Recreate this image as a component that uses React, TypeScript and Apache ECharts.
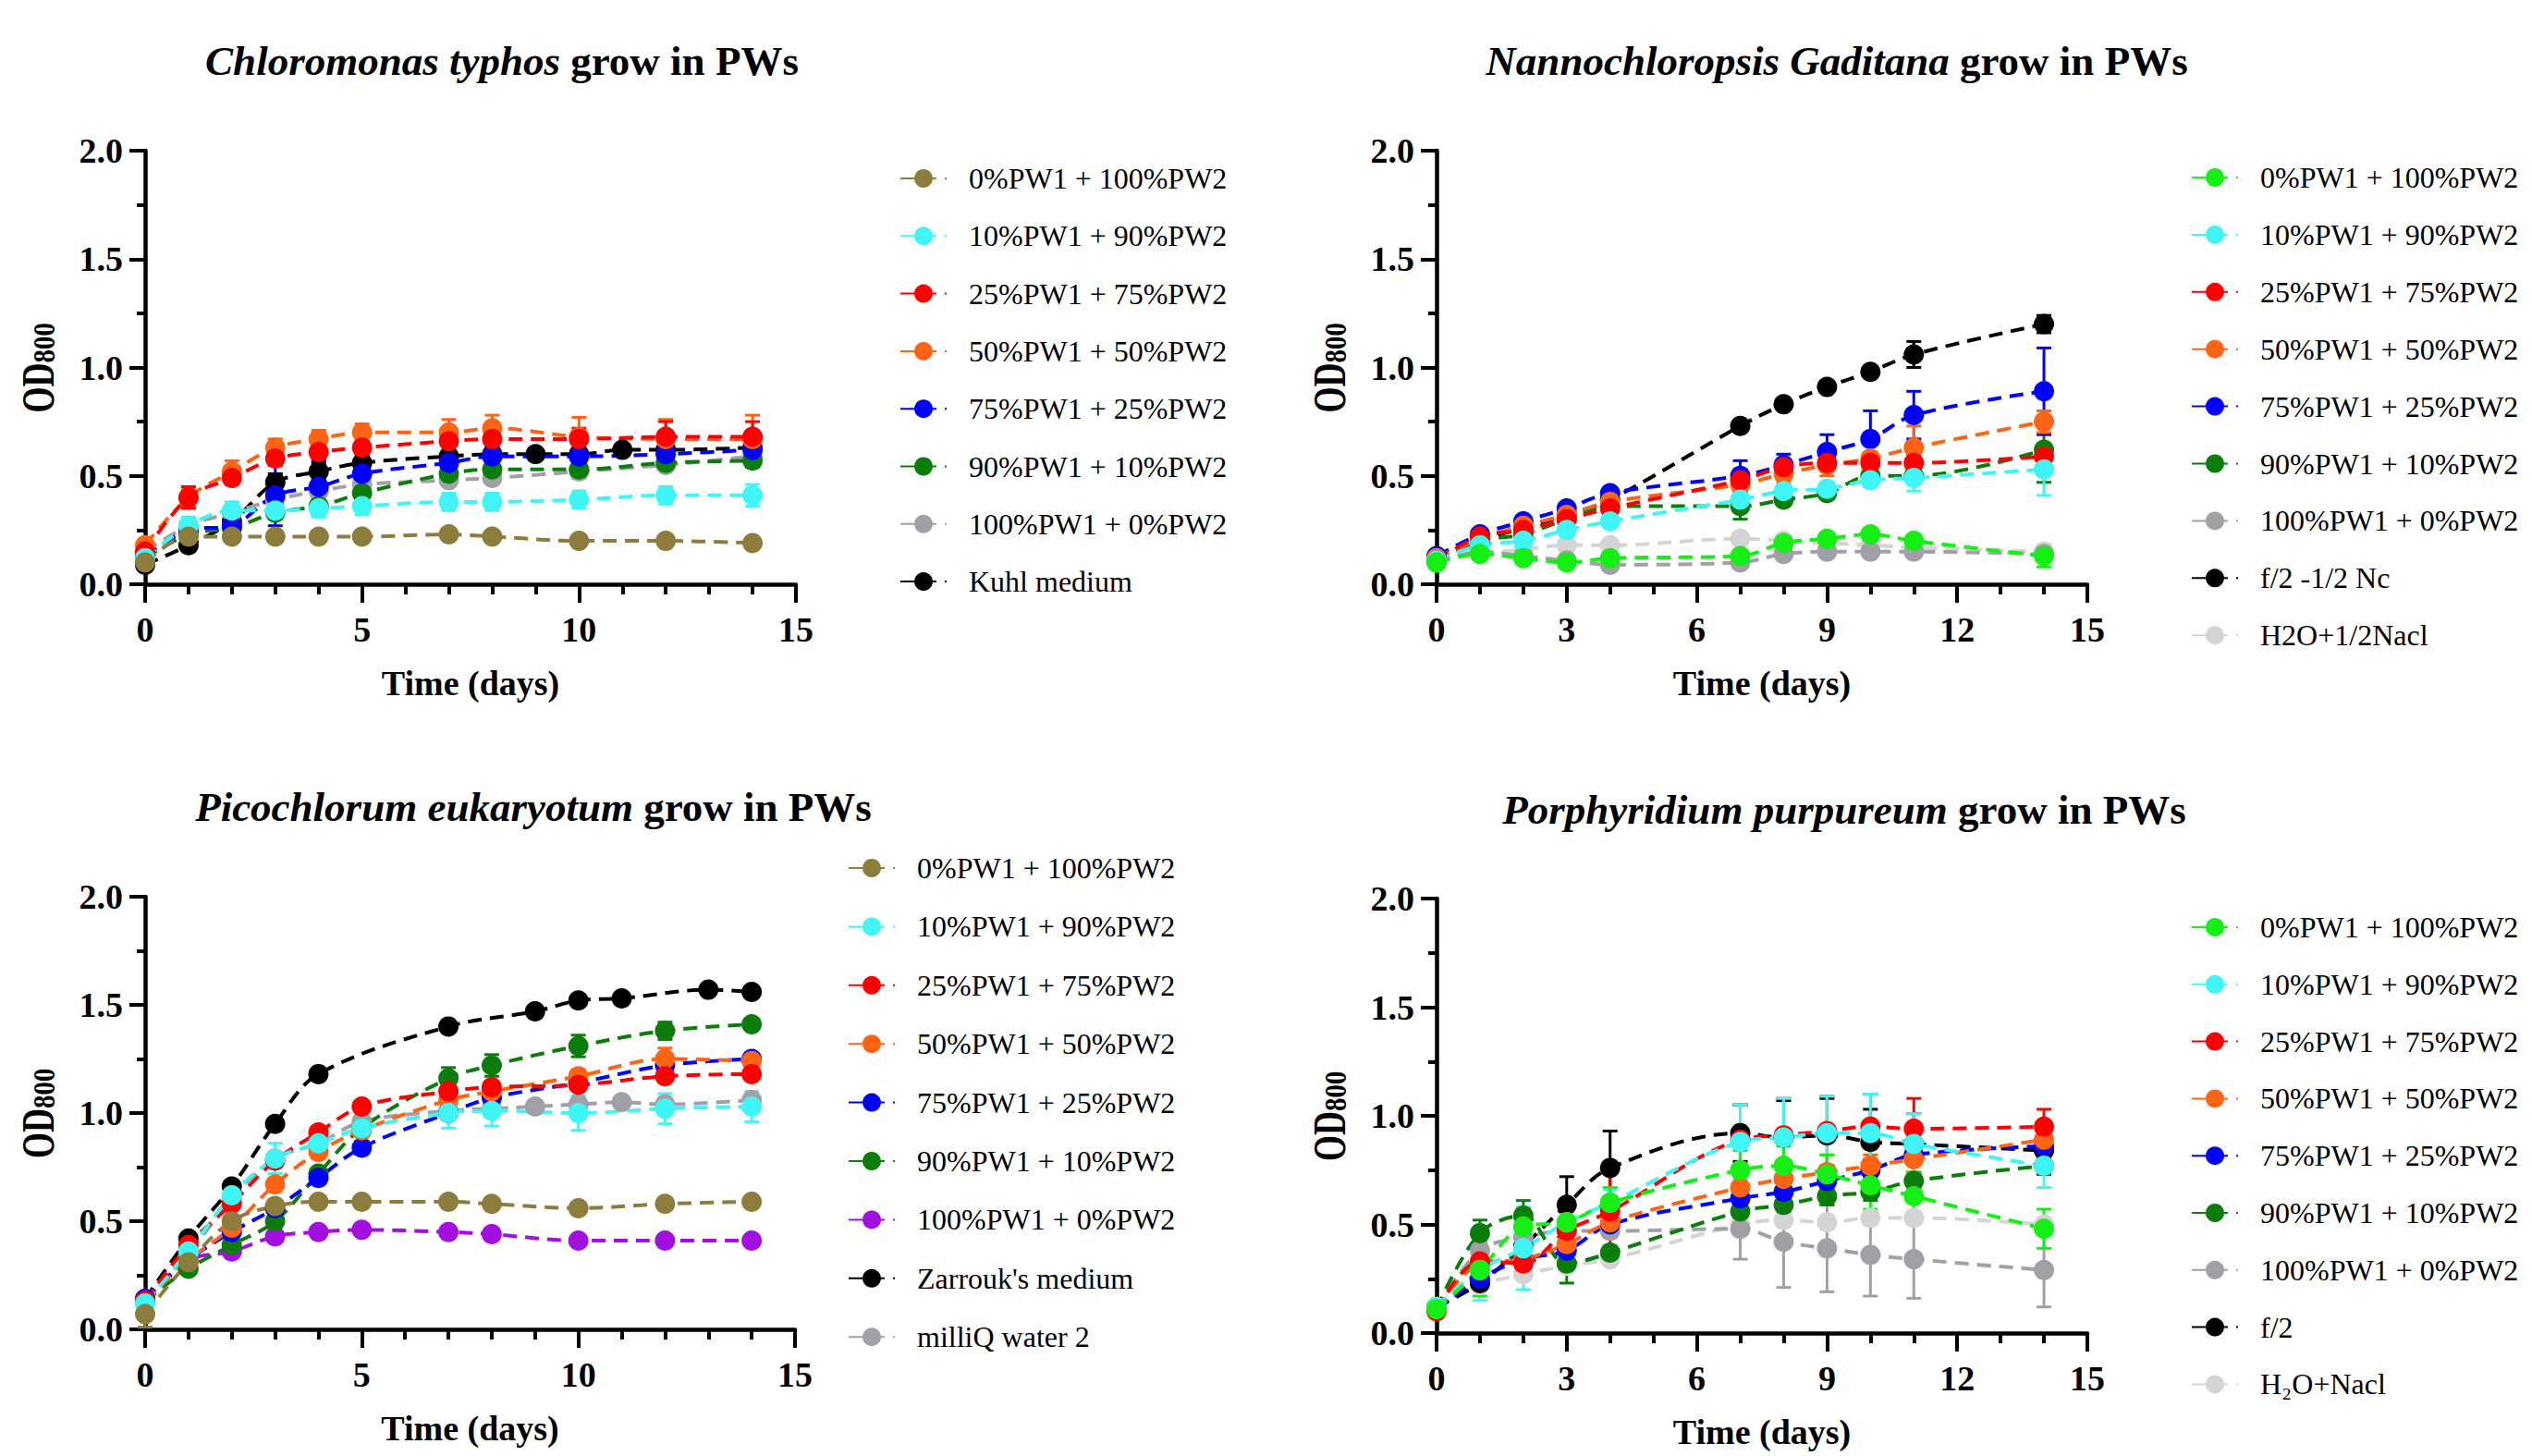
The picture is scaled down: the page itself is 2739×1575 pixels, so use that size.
import React, { useEffect, useRef } from "react";
import * as echarts from "echarts";

const FONT = "'Liberation Serif', 'Times New Roman', serif";

// ---------- colours ----------
const KHAKI = "#8C7D3C";
const CYAN = "#40F5F5";
const RED = "#FF0000";
const ORANGE = "#FF6414";
const BLUE = "#0000FF";
const DGREEN = "#0A7D0A";
const GRAY = "#A0A0A6";
const BLACK = "#000000";
const LIME = "#14F014";
const PURPLE = "#A30FE0";
const LGRAY = "#D4D4D4";

// ---------- labels ----------
const L0 = "0%PW1 + 100%PW2";
const L10 = "10%PW1 + 90%PW2";
const L25 = "25%PW1 + 75%PW2";
const L50 = "50%PW1 + 50%PW2";
const L75 = "75%PW1 + 25%PW2";
const L90 = "90%PW1 + 10%PW2";
const L100 = "100%PW1 + 0%PW2";

const xTicksA = [0, 5, 10, 15];
const xTicksB = [0, 3, 6, 9, 12, 15];
const yTicks = [0, 0.5, 1.0, 1.5, 2.0];

// ---------- panel 1 : Chloromonas typhos ----------
const days1 = [0, 1, 2, 3, 4, 5, 7, 8, 10, 12, 14];
const daysKuhl = [0, 1, 2, 3, 4, 5, 7, 8, 9, 10, 11, 12, 14];
const c0 = [0.1, 0.22, 0.22, 0.22, 0.22, 0.22, 0.23, 0.22, 0.2, 0.2, 0.19];
const c10 = [0.12, 0.27, 0.34, 0.34, 0.35, 0.36, 0.38, 0.38, 0.39, 0.41, 0.41];
const c25 = [0.15, 0.4, 0.49, 0.58, 0.61, 0.63, 0.66, 0.67, 0.67, 0.68, 0.68];
const c50 = [0.18, 0.4, 0.52, 0.63, 0.67, 0.7, 0.7, 0.72, 0.68, 0.67, 0.67];
const c75 = [0.13, 0.25, 0.27, 0.41, 0.45, 0.51, 0.56, 0.59, 0.59, 0.6, 0.62];
const c90 = [0.12, 0.23, 0.26, 0.33, 0.36, 0.42, 0.51, 0.53, 0.53, 0.56, 0.57];
const c100 = [0.15, 0.27, 0.33, 0.39, 0.43, 0.46, 0.48, 0.49, 0.52, 0.55, 0.59];
const cKuhl = [0.09, 0.18, 0.29, 0.47, 0.52, 0.56, 0.59, 0.6, 0.6, 0.6, 0.62, 0.62, 0.63];
const ec0 = [0.01, 0.02, 0.02, 0.02, 0.02, 0.02, 0.02, 0.02, 0.02, 0.02, 0.02];
const ec10 = [0.01, 0.04, 0.04, 0.04, 0.04, 0.04, 0.04, 0.04, 0.04, 0.04, 0.05];
const ec25 = [0.02, 0.05, 0.03, 0.03, 0.03, 0.03, 0.06, 0.03, 0.05, 0.07, 0.07];
const ec50 = [0.02, 0.04, 0.05, 0.04, 0.04, 0.04, 0.06, 0.06, 0.09, 0.09, 0.11];
const ec75 = [0.01, 0.02, 0.03, 0.14, 0.12, 0.09, 0.04, 0.05, 0.07, 0.05, 0.04];
const ec90 = [0.01, 0.02, 0.02, 0.03, 0.04, 0.03, 0.05, 0.03, 0.04, 0.03, 0.03];
const ec100 = [0.01, 0.02, 0.02, 0.02, 0.02, 0.02, 0.02, 0.02, 0.02, 0.02, 0.05];
const ecKuhl = [0.01, 0.02, 0.02, 0.04, 0.04, 0.02, 0.02, 0.02, 0.02, 0.02, 0.02, 0.02, 0.02];

// ---------- panel 2 : Nannochloropsis Gaditana ----------
const days2 = [0, 1, 2, 3, 4, 7, 8, 9, 10, 11, 14];
const n0 = [0.1, 0.14, 0.12, 0.1, 0.12, 0.13, 0.19, 0.21, 0.23, 0.2, 0.13];
const n10 = [0.11, 0.18, 0.2, 0.25, 0.29, 0.39, 0.43, 0.44, 0.48, 0.49, 0.53];
const n25 = [0.11, 0.22, 0.25, 0.3, 0.35, 0.48, 0.54, 0.56, 0.56, 0.56, 0.59];
const n50 = [0.12, 0.21, 0.27, 0.32, 0.38, 0.46, 0.51, 0.55, 0.58, 0.63, 0.75];
const n75 = [0.13, 0.23, 0.29, 0.35, 0.42, 0.5, 0.55, 0.61, 0.67, 0.78, 0.89];
const n90 = [0.11, 0.2, 0.23, 0.3, 0.36, 0.36, 0.39, 0.42, 0.5, 0.5, 0.62];
const n100 = [0.1, 0.15, 0.13, 0.11, 0.09, 0.1, 0.14, 0.15, 0.15, 0.15, 0.14];
const nF2 = [0.11, 0.2, 0.26, 0.32, 0.39, 0.73, 0.83, 0.91, 0.98, 1.06, 1.2];
const nH2O = [0.11, 0.14, 0.16, 0.18, 0.18, 0.21, 0.2, 0.19, 0.18, 0.17, 0.15];
const en0 = [0.01, 0.02, 0.02, 0.02, 0.02, 0.02, 0.02, 0.02, 0.02, 0.02, 0.05];
const en10 = [0.01, 0.01, 0.01, 0.01, 0.02, 0.03, 0.03, 0.03, 0.03, 0.06, 0.12];
const en25 = [0.01, 0.01, 0.01, 0.01, 0.02, 0.05, 0.03, 0.03, 0.03, 0.04, 0.05];
const en50 = [0.01, 0.01, 0.01, 0.01, 0.02, 0.03, 0.04, 0.05, 0.08, 0.1, 0.05];
const en75 = [0.01, 0.01, 0.01, 0.01, 0.01, 0.07, 0.05, 0.08, 0.13, 0.11, 0.2];
const en90 = [0.01, 0.01, 0.01, 0.01, 0.02, 0.06, 0.02, 0.02, 0.02, 0.02, 0.15];
const en100 = [0.01, 0.01, 0.01, 0.01, 0.01, 0.01, 0.01, 0.01, 0.01, 0.01, 0.01];
const enF2 = [0.01, 0.01, 0.01, 0.01, 0.01, 0.02, 0.02, 0.02, 0.02, 0.06, 0.04];
const enH2O = [0.01, 0.01, 0.01, 0.01, 0.01, 0.01, 0.01, 0.01, 0.01, 0.01, 0.01];

// ---------- panel 3 : Picochlorum eukaryotum ----------
const days3 = [0, 1, 2, 3, 4, 5, 7, 8, 10, 12, 14];
const daysZar = [0, 1, 2, 3, 4, 7, 9, 10, 11, 13, 14];
const daysMilli = [0, 1, 2, 3, 4, 5, 7, 8, 9, 10, 11, 12, 14];
const p0 = [0.07, 0.31, 0.5, 0.57, 0.59, 0.59, 0.59, 0.58, 0.56, 0.58, 0.59];
const p10 = [0.12, 0.36, 0.62, 0.79, 0.86, 0.93, 1.0, 1.01, 1.0, 1.02, 1.03];
const p25 = [0.13, 0.39, 0.58, 0.78, 0.91, 1.03, 1.1, 1.12, 1.13, 1.17, 1.18];
const p50 = [0.13, 0.32, 0.47, 0.67, 0.82, 0.92, 1.06, 1.1, 1.17, 1.25, 1.24];
const p75 = [0.14, 0.32, 0.45, 0.56, 0.7, 0.84, 1.0, 1.07, 1.14, 1.22, 1.25];
const p90 = [0.13, 0.28, 0.39, 0.5, 0.72, 0.93, 1.16, 1.22, 1.31, 1.38, 1.41];
const p100 = [0.14, 0.32, 0.36, 0.43, 0.45, 0.46, 0.45, 0.44, 0.41, 0.41, 0.41];
const pZar = [0.14, 0.42, 0.66, 0.95, 1.18, 1.4, 1.47, 1.52, 1.53, 1.57, 1.56];
const pMilli = [0.13, 0.35, 0.6, 0.79, 0.86, 0.96, 1.01, 1.02, 1.03, 1.04, 1.05, 1.04, 1.06];
const ep0 = [0.06, 0.02, 0.02, 0.02, 0.02, 0.02, 0.02, 0.02, 0.02, 0.02, 0.02];
const ep10 = [0.02, 0.03, 0.06, 0.07, 0.06, 0.07, 0.07, 0.07, 0.08, 0.07, 0.07];
const ep25 = [0.01, 0.02, 0.02, 0.03, 0.02, 0.02, 0.02, 0.02, 0.02, 0.02, 0.02];
const ep50 = [0.01, 0.02, 0.02, 0.02, 0.03, 0.02, 0.02, 0.02, 0.03, 0.05, 0.02];
const ep75 = [0.01, 0.02, 0.02, 0.02, 0.02, 0.03, 0.02, 0.02, 0.02, 0.02, 0.02];
const ep90 = [0.01, 0.02, 0.02, 0.02, 0.02, 0.03, 0.05, 0.05, 0.05, 0.04, 0.02];
const ep100 = [0.01, 0.01, 0.01, 0.01, 0.01, 0.01, 0.01, 0.01, 0.01, 0.01, 0.01];
const epZar = [0.01, 0.01, 0.01, 0.01, 0.01, 0.01, 0.01, 0.01, 0.01, 0.01, 0.01];
const epMilli = [0.01, 0.01, 0.01, 0.01, 0.01, 0.01, 0.01, 0.01, 0.01, 0.01, 0.01, 0.01, 0.01];

// ---------- panel 4 : Porphyridium purpureum ----------
const days4 = [0, 1, 2, 3, 4, 7, 8, 9, 10, 11, 14];
const q0 = [0.11, 0.29, 0.49, 0.51, 0.6, 0.75, 0.77, 0.73, 0.68, 0.63, 0.48];
const q10 = [0.12, 0.29, 0.39, 0.51, 0.6, 0.88, 0.9, 0.92, 0.92, 0.87, 0.77];
const q25 = [0.1, 0.33, 0.32, 0.47, 0.56, 0.89, 0.91, 0.93, 0.95, 0.94, 0.95];
const q50 = [0.11, 0.32, 0.34, 0.41, 0.51, 0.67, 0.71, 0.74, 0.77, 0.8, 0.89];
const q75 = [0.11, 0.25, 0.34, 0.38, 0.5, 0.62, 0.65, 0.7, 0.75, 0.82, 0.86];
const q90 = [0.11, 0.46, 0.54, 0.32, 0.37, 0.56, 0.59, 0.63, 0.65, 0.7, 0.77];
const q100 = [0.11, 0.38, 0.44, 0.47, 0.47, 0.48, 0.42, 0.39, 0.36, 0.34, 0.29];
const qF2 = [0.12, 0.23, 0.4, 0.59, 0.76, 0.92, 0.9, 0.91, 0.88, 0.87, 0.84];
const qH2O = [0.11, 0.22, 0.27, 0.31, 0.34, 0.5, 0.52, 0.51, 0.53, 0.53, 0.5];
const eq0 = [0.02, 0.12, 0.08, 0.07, 0.07, 0.09, 0.09, 0.09, 0.11, 0.11, 0.09];
const eq10 = [0.02, 0.14, 0.19, 0.05, 0.06, 0.17, 0.18, 0.17, 0.18, 0.14, 0.1];
const eq25 = [0.02, 0.08, 0.06, 0.06, 0.2, 0.16, 0.17, 0.16, 0.15, 0.14, 0.08];
const eq50 = [0.02, 0.08, 0.04, 0.06, 0.12, 0.05, 0.06, 0.08, 0.05, 0.06, 0.04];
const eq75 = [0.02, 0.04, 0.04, 0.04, 0.04, 0.04, 0.04, 0.04, 0.04, 0.04, 0.04];
const eq90 = [0.02, 0.06, 0.07, 0.09, 0.03, 0.05, 0.04, 0.04, 0.04, 0.04, 0.04];
const eq100 = [0.02, 0.04, 0.04, 0.03, 0.03, 0.14, 0.21, 0.2, 0.19, 0.18, 0.17];
const eqF2 = [0.02, 0.03, 0.05, 0.13, 0.17, 0.13, 0.17, 0.17, 0.15, 0.14, 0.09];
const eqH2O = [0.02, 0.02, 0.02, 0.02, 0.02, 0.03, 0.03, 0.03, 0.03, 0.03, 0.03];

type Def = { label: string; color: string; x: number[]; y: number[]; e: number[] };

const panels: {
  defs: Def[];
  grid: { left: number; top: number; width: number; height: number };
  xTicks: number[];
  legend: { left: number; top: number; gap: number };
  title: { x: number; y: number; it: string };
}[] = [
  {
    defs: [
      { label: L0, color: KHAKI, x: days1, y: c0, e: ec0 },
      { label: L10, color: CYAN, x: days1, y: c10, e: ec10 },
      { label: L25, color: RED, x: days1, y: c25, e: ec25 },
      { label: L50, color: ORANGE, x: days1, y: c50, e: ec50 },
      { label: L75, color: BLUE, x: days1, y: c75, e: ec75 },
      { label: L90, color: DGREEN, x: days1, y: c90, e: ec90 },
      { label: L100, color: GRAY, x: days1, y: c100, e: ec100 },
      { label: "Kuhl medium", color: BLACK, x: daysKuhl, y: cKuhl, e: ecKuhl },
    ],
    grid: { left: 157, top: 163, width: 704, height: 469 },
    xTicks: xTicksA,
    legend: { left: 968, top: 170, gap: 26.3 },
    title: { x: 543, y: 66, it: "Chloromonas typhos" },
  },
  {
    defs: [
      { label: L0, color: LIME, x: days2, y: n0, e: en0 },
      { label: L10, color: CYAN, x: days2, y: n10, e: en10 },
      { label: L25, color: RED, x: days2, y: n25, e: en25 },
      { label: L50, color: ORANGE, x: days2, y: n50, e: en50 },
      { label: L75, color: BLUE, x: days2, y: n75, e: en75 },
      { label: L90, color: DGREEN, x: days2, y: n90, e: en90 },
      { label: L100, color: GRAY, x: days2, y: n100, e: en100 },
      { label: "f/2 -1/2 Nc", color: BLACK, x: days2, y: nF2, e: enF2 },
      { label: "H2O+1/2Nacl", color: LGRAY, x: days2, y: nH2O, e: enH2O },
    ],
    grid: { left: 1554, top: 163, width: 704, height: 469 },
    xTicks: xTicksB,
    legend: { left: 2365, top: 169, gap: 25.9 },
    title: { x: 1987, y: 66, it: "Nannochloropsis Gaditana" },
  },
  {
    defs: [
      { label: L0, color: KHAKI, x: days3, y: p0, e: ep0 },
      { label: L10, color: CYAN, x: days3, y: p10, e: ep10 },
      { label: L25, color: RED, x: days3, y: p25, e: ep25 },
      { label: L50, color: ORANGE, x: days3, y: p50, e: ep50 },
      { label: L75, color: BLUE, x: days3, y: p75, e: ep75 },
      { label: L90, color: DGREEN, x: days3, y: p90, e: ep90 },
      { label: L100, color: PURPLE, x: days3, y: p100, e: ep100 },
      { label: "Zarrouk's medium", color: BLACK, x: daysZar, y: pZar, e: epZar },
      { label: "milliQ water 2", color: GRAY, x: daysMilli, y: pMilli, e: epMilli },
    ],
    grid: { left: 157, top: 970, width: 703, height: 468 },
    xTicks: xTicksA,
    legend: { left: 912, top: 916, gap: 27.4 },
    title: { x: 577, y: 873, it: "Picochlorum eukaryotum" },
  },
  {
    defs: [
      { label: L0, color: LIME, x: days4, y: q0, e: eq0 },
      { label: L10, color: CYAN, x: days4, y: q10, e: eq10 },
      { label: L25, color: RED, x: days4, y: q25, e: eq25 },
      { label: L50, color: ORANGE, x: days4, y: q50, e: eq50 },
      { label: L75, color: BLUE, x: days4, y: q75, e: eq75 },
      { label: L90, color: DGREEN, x: days4, y: q90, e: eq90 },
      { label: L100, color: GRAY, x: days4, y: q100, e: eq100 },
      { label: "f/2", color: BLACK, x: days4, y: qF2, e: eqF2 },
      { label: "H\u2082O+Nacl", color: LGRAY, x: days4, y: qH2O, e: eqH2O },
    ],
    grid: { left: 1554, top: 972, width: 704, height: 470 },
    xTicks: xTicksB,
    legend: { left: 2365, top: 980, gap: 25.8 },
    title: { x: 1995, y: 876, it: "Porphyridium purpureum" },
  },
];

function buildOption() {
  const grids: any[] = [];
  const xAxes: any[] = [];
  const yAxes: any[] = [];
  const legends: any[] = [];
  const series: any[] = [];
  const graphics: any[] = [];

  panels.forEach((p, pi) => {
    grids.push({ ...p.grid, containLabel: false });
    const xInterval = p.xTicks[1] - p.xTicks[0];
    xAxes.push({
      type: "value",
      gridIndex: pi,
      min: p.xTicks[0],
      max: p.xTicks[p.xTicks.length - 1],
      interval: xInterval,
      axisLine: { show: true, lineStyle: { color: "#000", width: 4.5 } },
      axisTick: { show: true, inside: false, length: 20, lineStyle: { color: "#000", width: 4 } },
      minorTick: { show: true, splitNumber: xInterval, length: 11, lineStyle: { color: "#000", width: 4 } },
      splitLine: { show: false },
      minorSplitLine: { show: false },
      axisLabel: { fontFamily: FONT, fontWeight: "bold", fontSize: 38, color: "#000", margin: 30, lineHeight: 38 },
      name: "Time (days)",
      nameLocation: "middle",
      nameGap: 88,
      nameTextStyle: { fontFamily: FONT, fontWeight: "bold", fontSize: 38, color: "#000", lineHeight: 38 },
    });
    yAxes.push({
      type: "value",
      gridIndex: pi,
      min: yTicks[0],
      max: yTicks[yTicks.length - 1],
      interval: yTicks[1] - yTicks[0],
      axisLine: { show: true, lineStyle: { color: "#000", width: 4.5 } },
      axisTick: { show: true, inside: false, length: 17, lineStyle: { color: "#000", width: 4 } },
      minorTick: { show: true, splitNumber: 2, length: 9, lineStyle: { color: "#000", width: 4 } },
      splitLine: { show: false },
      minorSplitLine: { show: false },
      axisLabel: {
        fontFamily: FONT,
        fontWeight: "bold",
        fontSize: 38,
        color: "#000",
        margin: 24,
        formatter: (v: number) => v.toFixed(1),
      },
    });

    const names = p.defs.map((d) => `${pi}|${d.label}`);
    legends.push({
      orient: "vertical",
      left: p.legend.left,
      top: p.legend.top,
      itemWidth: 50,
      itemHeight: 25,
      itemGap: p.legend.gap,
      selectedMode: false,
      data: names,
      formatter: (n: string) => n.slice(n.indexOf("|") + 1),
      textStyle: { fontFamily: FONT, fontSize: 32, color: "#000", lineHeight: 36, padding: [0, 0, 0, 19] },
    });

    // draw in reverse so that the first-listed data set is on top
    for (let k = p.defs.length - 1; k >= 0; k--) {
      const d = p.defs[k];
      const color = d.color;
      series.push({
        type: "custom",
        name: `${pi}|${d.label}|err`,
        xAxisIndex: pi,
        yAxisIndex: pi,
        data: d.x.map((x, i) => [x, d.y[i] - d.e[i], d.y[i] + d.e[i]]),
        encode: { x: 0, y: [1, 2] },
        renderItem: (params: any, api: any) => {
          const x = api.value(0);
          const lo = api.value(1);
          const hi = api.value(2);
          const a = api.coord([x, hi]);
          const b = api.coord([x, lo]);
          const w = 8;
          const style = { stroke: color, lineWidth: 3, fill: null };
          return {
            type: "group",
            children: [
              { type: "line", shape: { x1: a[0], y1: a[1], x2: b[0], y2: b[1] }, style },
              { type: "line", shape: { x1: a[0] - w, y1: a[1], x2: a[0] + w, y2: a[1] }, style },
              { type: "line", shape: { x1: b[0] - w, y1: b[1], x2: b[0] + w, y2: b[1] }, style },
            ],
          };
        },
        z: 2,
      });
      series.push({
        type: "line",
        name: names[k],
        xAxisIndex: pi,
        yAxisIndex: pi,
        data: d.x.map((x, i) => [x, d.y[i]]),
        smooth: 0.35,
        symbol: "circle",
        symbolSize: 22,
        showSymbol: true,
        lineStyle: { color, width: 4, type: [15, 9] },
        itemStyle: { color },
        z: 2,
      });
    }

    // title
    graphics.push({
      type: "text",
      x: p.title.x,
      y: p.title.y,
      style: {
        text: `{i|${p.title.it}} {b|grow in PWs}`,
        fontFamily: FONT,
        fontWeight: "bold",
        fontSize: 45,
        fill: "#000",
        align: "center",
        verticalAlign: "middle",
        textAlign: "center",
        textVerticalAlign: "middle",
        rich: {
          i: { fontFamily: FONT, fontWeight: "bold", fontStyle: "italic", fontSize: 45, color: "#000" },
          b: { fontFamily: FONT, fontWeight: "bold", fontSize: 45, color: "#000" },
        },
      },
    });

    // y-axis name OD800 (rotated, with subscript)
    graphics.push({
      type: "group",
      x: p.grid.left - 116,
      y: p.grid.top + p.grid.height / 2,
      rotation: Math.PI / 2,
      children: [
        {
          type: "text",
          x: -49,
          y: 0,
          scaleX: 0.72,
          style: {
            text: "OD",
            fontFamily: FONT,
            fontWeight: "bold",
            fontSize: 50,
            fill: "#000",
            align: "left",
            verticalAlign: "middle",
            textAlign: "left",
            textVerticalAlign: "middle",
          },
        },
        {
          type: "text",
          x: 5,
          y: 7,
          scaleX: 0.85,
          style: {
            text: "800",
            fontFamily: FONT,
            fontWeight: "bold",
            fontSize: 34,
            fill: "#000",
            align: "left",
            verticalAlign: "middle",
            textAlign: "left",
            textVerticalAlign: "middle",
          },
        },
      ],
    });
  });

  return {
    animation: false,
    backgroundColor: "#ffffff",
    grid: grids,
    xAxis: xAxes,
    yAxis: yAxes,
    legend: legends,
    series,
    graphic: graphics,
  };
}

export default function App() {
  const ref = useRef<HTMLDivElement>(null);
  useEffect(() => {
    if (!ref.current) return;
    const chart = echarts.init(ref.current, undefined, { renderer: "svg" });
    chart.setOption(buildOption() as any);
    return () => chart.dispose();
  }, []);
  return (
    <div
      ref={ref}
      style={{ position: "fixed", left: 0, top: 0, width: 2739, height: 1575, background: "#fff" }}
    />
  );
}
